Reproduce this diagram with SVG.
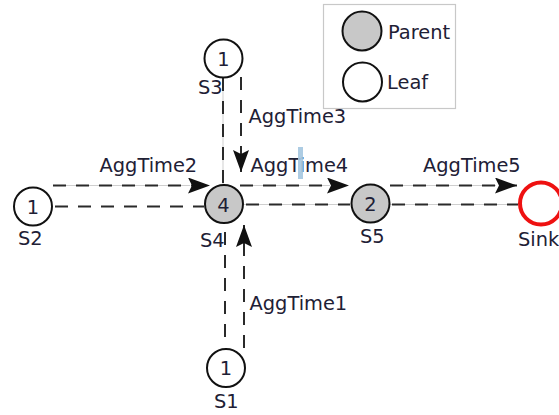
<svg xmlns="http://www.w3.org/2000/svg" width="559" height="415" viewBox="0 0 559 415">
<style>
text{font-family:"DejaVu Sans","Liberation Sans",sans-serif;font-size:19.4px;fill:#1e2035}
.num{text-anchor:middle}
.leaf{fill:#fff;stroke:#111;stroke-width:2}
.parent{fill:#c8c8c8;stroke:#111;stroke-width:2}
.sink{fill:#fff;stroke:#ee1111;stroke-width:4}
.under{stroke:#cfcfcf;stroke-width:1;fill:none}
.dash{stroke:#2a2a2a;stroke-width:2;fill:none;stroke-dasharray:13 10}
.arr{marker-end:url(#ah)}
</style>
<defs>
<marker id="ah" markerUnits="userSpaceOnUse" markerWidth="24" markerHeight="17" refX="22" refY="8" orient="auto">
<path d="M0,0 L22,8 L0,16 L4,8 z" fill="#111"/>
</marker>
</defs>
<g id="legend">
<rect x="323.5" y="4.5" width="132" height="104" fill="#fff" stroke="#c8c8c8" stroke-width="1.2"/>
<circle class="parent" cx="362" cy="31" r="19.5"/>
<text x="388" y="39">Parent</text>
<circle class="leaf" cx="362.5" cy="82" r="19.5"/>
<text x="387" y="88.5">Leaf</text>
</g>
<g id="connectors">
<line class="under" x1="223" y1="78" x2="223" y2="185"/>
<line class="dash" x1="223" y1="78" x2="223" y2="185"/>
<line class="dash arr" x1="241" y1="77" x2="241" y2="172"/>
<line class="under" x1="53" y1="185.5" x2="190" y2="185.5"/>
<line class="dash arr" x1="53" y1="185.5" x2="210" y2="185.5"/>
<line class="dash" x1="55" y1="206.5" x2="204" y2="206.5"/>
<line class="under" x1="240" y1="185.5" x2="330" y2="185.5"/>
<line class="dash arr" x1="240" y1="185.5" x2="349" y2="185.5"/>
<line class="under" x1="244" y1="204.5" x2="350" y2="204.5"/>
<line class="dash" x1="246" y1="204.5" x2="350" y2="204.5"/>
<line class="under" x1="390" y1="185.5" x2="496" y2="185.5"/>
<line class="dash arr" x1="390" y1="185.5" x2="517" y2="185.5"/>
<line class="under" x1="390" y1="204.5" x2="518" y2="204.5"/>
<line class="dash" x1="392" y1="204.5" x2="518" y2="204.5"/>
<line class="dash" x1="225" y1="337" x2="225" y2="224"/>
<line class="dash arr" x1="244" y1="348" x2="244" y2="225"/>
</g>
<g id="edge-labels">
<text x="248.5" y="123">AggTime3</text>
<text x="99.5" y="172">AggTime2</text>
<text x="250.5" y="172">AggTime4</text>
<text x="423" y="172">AggTime5</text>
<text x="249.5" y="310">AggTime1</text>
</g>
<rect x="298" y="147" width="5" height="32" fill="#a4c6e0" opacity="0.9"/>
<g id="S3">
<circle class="leaf" cx="223.5" cy="58.5" r="19"/>
<text class="num" x="223.5" y="65.5">1</text>
<text x="198" y="94">S3</text>
</g>
<g id="S2">
<circle class="leaf" cx="33" cy="206.5" r="19"/>
<text class="num" x="33" y="213.5">1</text>
<text x="18" y="245">S2</text>
</g>
<g id="S4">
<circle class="parent" cx="224" cy="204" r="19"/>
<text class="num" x="223.5" y="212">4</text>
<text x="200" y="247">S4</text>
</g>
<g id="S5">
<circle class="parent" cx="370.5" cy="203.5" r="19"/>
<text class="num" x="370.5" y="210.5">2</text>
<text x="360" y="243">S5</text>
</g>
<g id="Sink">
<circle class="sink" cx="541" cy="203.5" r="21"/>
<text x="518" y="246">Sink</text>
</g>
<g id="S1">
<circle class="leaf" cx="226" cy="368" r="19"/>
<text class="num" x="226" y="375">1</text>
<text x="214" y="408">S1</text>
</g>
</svg>
